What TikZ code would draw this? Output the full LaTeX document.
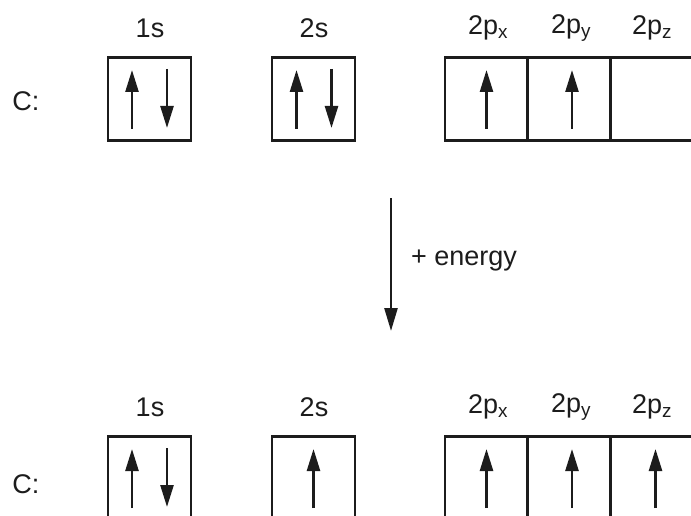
\documentclass[tikz,border=0pt]{standalone}
\usepackage{fontspec}
\setmainfont{Liberation Sans}
\usetikzlibrary{arrows.meta}

\definecolor{ink}{HTML}{1C1C1C}
\tikzset{
  orb/.style={draw=ink,line width=2.3pt,minimum size=83pt,inner sep=0pt},
  spin/.style={draw=ink,line width=2.5pt,-{Triangle[length=22pt,width=13pt]}},
  lbl/.style={text=ink,font=\fontsize{27}{32}\selectfont,inner sep=0pt},
}
% spin arrows inside an orbital box: #1 box, #2 horizontal offset
\newcommand\spinup[2]{\draw[spin] ([xshift=#2,yshift=-30pt]#1.center) -- ([xshift=#2,yshift=29pt]#1.center);}
\newcommand\spindown[2]{\draw[spin] ([xshift=#2,yshift=30pt]#1.center) -- ([xshift=#2,yshift=-29pt]#1.center);}

\begin{document}
\begin{tikzpicture}[x=1pt,y=-1pt]
  \clip (0,0) rectangle (691,516);

  % ground state
  \node[lbl] (ca) at (26,101) {C:};
  \node[lbl] (la1) at (150,28) {1s};
  \node[lbl] (la2) at (314,28) {2s};
  \node[lbl] (lax) at (488,28) {2p\textsubscript{x}};
  \node[lbl] (lay) at (571,28) {2p\textsubscript{y}};
  \node[lbl] (laz) at (652,28) {2p\textsubscript{z}};
  \node[orb] (sa1) at (149.5,99) {};
  \node[orb] (sa2) at (313.5,99) {};
  \node[orb] (pax) at (486.5,99) {};
  \node[orb] (pay) at (569,99) {};
  \node[orb] (paz) at (651.5,99) {};
  \spinup{sa1}{-17.5pt} \spindown{sa1}{17.5pt}
  \spinup{sa2}{-17pt} \spindown{sa2}{18pt}
  \spinup{pax}{0pt} \spinup{pay}{3pt}

  % excitation
  \coordinate (ea) at (391,198);
  \coordinate (eb) at (391,331);
  \draw[spin,-{Triangle[length=23pt,width=13pt]}] (ea) -- (eb);
  \node[lbl,anchor=west] (en) at (411,261) {+ energy};

  % excited state
  \node[lbl] (cb) at (26,484) {C:};
  \node[lbl] (lb1) at (150,407) {1s};
  \node[lbl] (lb2) at (314,407) {2s};
  \node[lbl] (lbx) at (488,407) {2p\textsubscript{x}};
  \node[lbl] (lby) at (571,407) {2p\textsubscript{y}};
  \node[lbl] (lbz) at (652,407) {2p\textsubscript{z}};
  \node[orb] (sb1) at (149.5,478) {};
  \node[orb] (sb2) at (313.5,478) {};
  \node[orb] (pbx) at (486.5,478) {};
  \node[orb] (pby) at (569,478) {};
  \node[orb] (pbz) at (651.5,478) {};
  \spinup{sb1}{-17.5pt} \spindown{sb1}{17.5pt}
  \spinup{sb2}{0pt}
  \spinup{pbx}{0pt} \spinup{pby}{3pt} \spinup{pbz}{4pt}
\end{tikzpicture}
\end{document}
